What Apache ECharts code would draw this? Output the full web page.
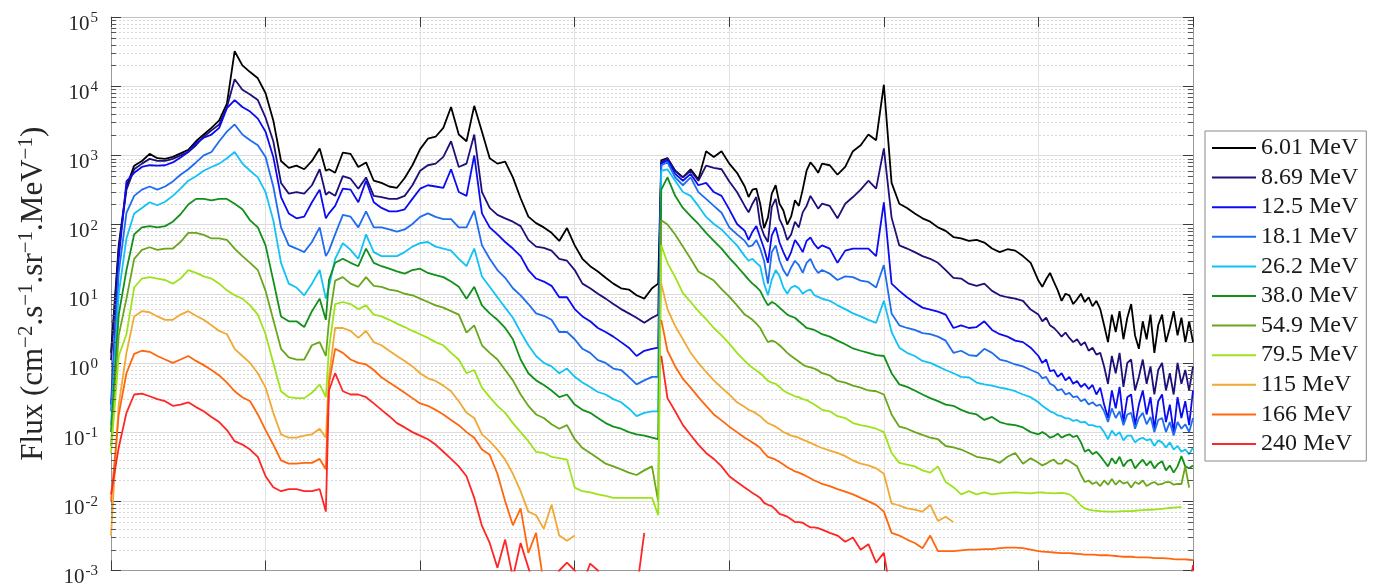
<!DOCTYPE html>
<html>
<head>
<meta charset="utf-8">
<script src="https://cdn.jsdelivr.net/npm/echarts@6.0.0/dist/echarts.min.js"></script>
<style>
  html, body { margin: 0; padding: 0; background: #ffffff; }
  #chart { width: 1383px; height: 588px; }
</style>
</head>
<body>
<div id="chart"></div>
<script>
// Time axis (days) shared by every energy channel; finer sampling over the noisy stretches
const days = [
  0, 0.05, 0.1, 0.15, 0.2, 0.25, 0.3, 0.35, 0.4, 0.45,
  0.5, 0.55, 0.6, 0.65, 0.7, 0.75, 0.8, 0.85, 0.9, 0.95,
  1.0, 1.05, 1.1, 1.15, 1.2, 1.25, 1.3, 1.35, 1.39, 1.41,
  1.45, 1.5, 1.55, 1.6, 1.65, 1.7, 1.75, 1.8, 1.85, 1.9,
  1.95, 2.0, 2.05, 2.1, 2.15, 2.2, 2.25, 2.3, 2.35, 2.4,
  2.45, 2.5, 2.55, 2.6, 2.65, 2.7, 2.75, 2.8, 2.85, 2.9,
  2.95, 3.0, 3.05, 3.1, 3.15, 3.2, 3.25, 3.3, 3.35, 3.4,
  3.45, 3.5, 3.54, 3.56, 3.6, 3.65, 3.7, 3.75, 3.8, 3.85,
  3.9, 3.95, 4.0, 4.05, 4.1, 4.125, 4.15, 4.175, 4.2, 4.225,
  4.25, 4.275, 4.3, 4.325, 4.35, 4.375, 4.4, 4.425, 4.45, 4.475,
  4.5, 4.525, 4.55, 4.575, 4.6, 4.65, 4.7, 4.75, 4.8, 4.85,
  4.9, 4.95, 5.0, 5.05, 5.1, 5.15, 5.2, 5.25, 5.3, 5.35,
  5.4, 5.45, 5.5, 5.55, 5.6, 5.65, 5.7, 5.75, 5.8, 5.85,
  5.9, 5.95,
  6.0, 6.025, 6.05, 6.075, 6.1, 6.125, 6.15, 6.175, 6.2, 6.225,
  6.25, 6.275, 6.3, 6.325, 6.35, 6.375, 6.4, 6.425, 6.45, 6.475,
  6.5, 6.525, 6.55, 6.575, 6.6, 6.625, 6.65, 6.675, 6.7, 6.725,
  6.75, 6.775, 6.8, 6.825, 6.85, 6.875, 6.9, 6.925, 6.95, 6.975,
  7.0
];

const energies = ['6.01 MeV', '8.69 MeV', '12.5 MeV', '18.1 MeV', '26.2 MeV', '38.0 MeV',
                  '54.9 MeV', '79.5 MeV', '115 MeV', '166 MeV', '240 MeV'];

const lineColors = ['#000000', '#1d1079', '#0b0bf2', '#1f6cf0', '#12c2f5', '#11901a',
                    '#69a61b', '#9de31c', '#f0a935', '#ff660d', '#ff2626'];

// Proton flux, cm^-2 s^-1 sr^-1 MeV^-1 ('-' = no measurement)
const flux601 = [
  1.4, 50, 350, 710, 830, 1.05e3, 910, 890, 950, 1.07e3,
  1.2e3, 1.6e3, 2.0e3, 2.5e3, 3.2e3, 5.6e3, 3.2e4, 2.0e4, 1.6e4, 1.3e4,
  7.9e3, 3.2e3, 830, 660, 710, 630, 830, 1.26e3, 600, 630,
  560, 1.1e3, 1.05e3, 680, 790, 430, 400, 355, 340, 470,
  720, 1.23e3, 1.74e3, 1.86e3, 2.5e3, 5.0e3, 2.0e3, 1.6e3, 5.2e3, 2.2e3,
  910, 760, 810, 480, 240, 130, 105, 91, 76, 58,
  89, 50, 32, 25, 21, 17, 14, 12, 11.5, 9.5,
  8.5, 12, 14, 850, 910, 600, 480, 630, 450, 1.15e3,
  950, 1.15e3, 760, 560, 355, 250, 320, 330, 200, 89,
  126, 280, 370, 200, 160, 100, 130, 224, 186, 320,
  600, 790, 680, 560, 760, 720, 525, 680, 1.15e3, 1.4e3,
  2.0e3, 1.66e3, 1.05e4, 400, 200, 174, 145, 123, 110, 91,
  81, 66, 63, 58, 60, 55, 45, 40, 44, 42,
  35, 28,
  15.5, 12.6, 16.2, 20, 14.8, 11.2, 7.9, 10, 9.5, 7.1,
  8.3, 10, 7.6, 8.9, 6.6, 7.9, 6.0, 3.5, 2.0, 5.0,
  2.8, 5.6, 2.2, 4.5, 7.1, 2.5, 1.6, 4.0, 2.2, 5.0,
  1.4, 3.5, 5.0, 2.0, 3.2, 5.6, 2.5, 4.5, 2.0, 4.0,
  2.0
];
const flux869 = [
  1.1, 45, 320, 630, 760, 890, 830, 830, 890, 1.0e3,
  1.12e3, 1.4e3, 1.86e3, 2.3e3, 2.8e3, 5.0e3, 1.26e4, 8.9e3, 7.6e3, 6.3e3,
  3.5e3, 1.6e3, 400, 280, 295, 280, 370, 630, 270, 295,
  260, 500, 460, 330, 480, 260, 250, 235, 235, 260,
  370, 600, 720, 760, 950, 1.6e3, 680, 760, 2.0e3, 295,
  174, 138, 123, 110, 95, 60, 48, 46, 42, 32,
  30, 22, 14, 12, 10, 8.5, 7.1, 6.0, 5.2, 4.5,
  3.8, 4.5, 5.0, 790, 910, 600, 480, 600, 430, 710,
  660, 630, 420, 295, 186, 150, 200, 250, 100, 70,
  56, 180, 235, 120, 91, 60, 72, 110, 91, 150,
  186, 260, 210, 170, 200, 186, 123, 200, 250, 320,
  430, 330, 1.26e3, 126, 50, 45, 40, 35, 32, 28,
  22, 17, 16.6, 14, 13, 14, 11, 9.5, 8.9, 8.5,
  7.9, 5.9,
  5.0, 4.0, 4.5, 3.5, 3.2, 2.8, 2.4, 2.75, 2.3, 2.0,
  2.2, 1.8, 2.0, 1.5, 1.66, 1.32, 1.4, 0.89, 0.5, 1.26,
  0.71, 1.4, 0.45, 1.0, 1.12, 0.4, 0.63, 1.12, 0.5, 0.89,
  0.35, 0.79, 1.0, 0.4, 0.71, 0.35, 1.0, 0.5, 0.79, 0.4,
  0.89
];
const flux125 = [
  0.25, 32, 420, 560, 680, 720, 710, 720, 790, 930,
  1.12e3, 1.5e3, 1.8e3, 2.0e3, 2.5e3, 4.8e3, 6.3e3, 5.0e3, 4.3e3, 3.4e3,
  2.2e3, 950, 250, 145, 123, 130, 210, 320, 123, 145,
  186, 330, 320, 210, 430, 210, 174, 155, 155, 166,
  235, 330, 370, 355, 340, 630, 295, 260, 1.0e3, 145,
  91, 72, 56, 45, 35, 22, 16.6, 15, 13, 8.9,
  8.9, 6.0, 4.7, 4.0, 3.2, 2.8, 2.4, 2.0, 1.66, 1.26,
  1.5, 1.6, 1.66, 760, 850, 540, 430, 540, 370, 400,
  295, 260, 166, 102, 81, 60, 79, 95, 65, 45,
  28, 70, 91, 55, 40, 30, 40, 60, 50, 40,
  58, 65, 52, 45, 50, 45, 28, 42, 45, 45,
  45, 35, 210, 14, 11, 8.9, 7.4, 6.3, 5.9, 5.5,
  5.0, 3.2, 3.5, 3.2, 3.3, 4.0, 3.0, 2.6, 2.4, 2.1,
  2.0, 1.66,
  1.26, 1.0, 1.12, 0.76, 0.79, 0.63, 0.71, 0.56, 0.63, 0.5,
  0.55, 0.45, 0.5, 0.42, 0.48, 0.35, 0.44, 0.25, 0.16, 0.4,
  0.22, 0.45, 0.14, 0.32, 0.35, 0.126, 0.25, 0.4, 0.18, 0.32,
  0.112, 0.28, 0.35, 0.14, 0.25, 0.1, 0.32, 0.16, 0.28, 0.126,
  0.4
];
const flux181 = [
  0.2, 20, 148, 260, 320, 355, 320, 355, 420, 525,
  630, 790, 1.0e3, 1.12e3, 1.6e3, 2.2e3, 2.8e3, 2.0e3, 1.66e3, 1.4e3,
  950, 355, 91, 50, 45, 40, 56, 91, 35, 42,
  72, 138, 130, 91, 155, 91, 91, 85, 79, 85,
  102, 129, 145, 129, 120, 120, 91, 91, 158, 50,
  32, 22, 17, 12, 9.5, 7.1, 5.2, 4.8, 4.2, 2.8,
  2.8, 2.2, 1.6, 1.4, 1.1, 1.0, 0.83, 0.79, 0.63, 0.49,
  0.56, 0.63, 0.63, 720, 790, 480, 370, 480, 295, 235,
  186, 148, 91, 72, 58, 48, 50, 60, 45, 30,
  14, 40, 50, 30, 22, 18, 24, 30, 26, 20,
  28, 32, 24, 20, 22, 19.5, 15.8, 17.8, 17.4, 15.5,
  14.8, 12.3, 26, 5.2, 3.5, 3.2, 3.0, 2.7, 2.6, 2.4,
  2.1, 1.4, 1.5, 1.3, 1.26, 1.6, 1.4, 1.12, 1.05, 0.95,
  0.89, 0.79,
  0.71, 0.6, 0.63, 0.5, 0.47, 0.4, 0.42, 0.35, 0.37, 0.32,
  0.33, 0.28, 0.3, 0.25, 0.27, 0.24, 0.25, 0.2, 0.14, 0.22,
  0.16, 0.2, 0.126, 0.18, 0.19, 0.112, 0.16, 0.19, 0.13, 0.166,
  0.1, 0.15, 0.16, 0.1, 0.14, 0.089, 0.14, 0.112, 0.13, 0.1,
  0.16
];
const flux262 = [
  0.126, 10, 63, 145, 174, 210, 190, 214, 260, 330,
  430, 500, 600, 680, 760, 910, 1.12e3, 760, 600, 480,
  295, 115, 28, 14, 12.3, 9.5, 14, 22, 8.5, 12.6,
  32, 54, 43, 32, 72, 40, 35, 35, 35, 40,
  48, 54, 56, 48, 45, 42, 32, 25, 45, 17.8,
  12.6, 8.9, 6.3, 4.5, 2.8, 1.8, 1.26, 1.0, 0.89, 0.71,
  0.83, 0.63, 0.52, 0.45, 0.38, 0.35, 0.3, 0.27, 0.22, 0.17,
  0.19, 0.2, 0.2, 600, 630, 430, 295, 260, 186, 129,
  102, 85, 65, 50, 35, 30, 32, 28, 25, 14,
  9.5, 16, 22, 18, 12.3, 10, 12.3, 13, 12, 10,
  11, 11.5, 9.5, 9, 8.5, 7.9, 6.8, 6.0, 5.2, 4.7,
  4.2, 3.8, 7.9, 2.8, 1.66, 1.4, 1.26, 1.07, 1.0, 0.89,
  0.79, 0.71, 0.63, 0.62, 0.52, 0.49, 0.47, 0.44, 0.42, 0.39,
  0.35, 0.32,
  0.27, 0.24, 0.22, 0.2, 0.19, 0.174, 0.17, 0.158, 0.158, 0.145,
  0.15, 0.138, 0.141, 0.126, 0.126, 0.12, 0.12, 0.1, 0.079, 0.105,
  0.089, 0.1, 0.076, 0.089, 0.089, 0.071, 0.079, 0.083, 0.076, 0.079,
  0.063, 0.076, 0.071, 0.06, 0.071, 0.056, 0.063, 0.052, 0.056, 0.048,
  0.06
];
const flux380 = [
  0.1, 5.0, 22, 72, 91, 95, 91, 95, 110, 141,
  195, 235, 235, 224, 235, 235, 200, 166, 115, 91,
  50, 15.5, 4.7, 4.0, 4.0, 3.3, 5.6, 8.5, 4.2, 15.8,
  28, 32, 28, 25, 45, 28, 25, 23, 21, 19.5,
  22, 23, 20, 18.6, 17.4, 15, 12.6, 8.5, 12.6, 6.8,
  5.2, 4.2, 3.2, 2.2, 1.12, 0.71, 0.56, 0.48, 0.4, 0.32,
  0.35, 0.25, 0.21, 0.19, 0.16, 0.135, 0.12, 0.112, 0.1, 0.093,
  0.089, 0.083, 0.079, 320, 480, 260, 174, 132, 102, 76,
  58, 45, 33, 25, 18.6, 16, 14, 12.6, 11, 8.5,
  6.8, 7.6, 7.1, 6.3, 5.6, 5.0, 4.7, 4.5, 4.0, 3.6,
  3.2, 3.1, 3.0, 2.8, 2.6, 2.4, 2.1, 1.86, 1.62, 1.5,
  1.4, 1.3, 1.26, 0.71, 0.49, 0.45, 0.4, 0.35, 0.31, 0.28,
  0.25, 0.24, 0.21, 0.19, 0.18, 0.15, 0.166, 0.14, 0.13, 0.126,
  0.117, 0.1,
  0.093, 0.1, 0.093, 0.083, 0.087, 0.095, 0.083, 0.089, 0.093, 0.085,
  0.089, 0.071, 0.052, 0.056, 0.048, 0.052, 0.045, 0.038, 0.032, 0.042,
  0.035, 0.044, 0.032, 0.038, 0.04, 0.03, 0.035, 0.04, 0.033, 0.038,
  0.03, 0.035, 0.038, 0.028, 0.033, 0.026, 0.032, 0.045, 0.032, 0.03,
  0.033
];
const flux549 = [
  0.063, 2.5, 8.5, 32, 43, 47, 43, 45, 45, 56,
  76, 76, 71, 63, 63, 60, 45, 35, 28, 22,
  11, 4.2, 1.6, 1.2, 1.12, 1.12, 1.8, 2.0, 1.26, 4.0,
  15.5, 17.4, 14, 12.6, 17.4, 13, 12.6, 11.5, 11, 10,
  9.5, 8.5, 7.6, 6.8, 6.3, 5.6, 5.0, 2.75, 3.5, 1.8,
  1.4, 1.12, 0.79, 0.56, 0.35, 0.24, 0.18, 0.16, 0.13, 0.112,
  0.126, 0.079, 0.059, 0.05, 0.042, 0.035, 0.032, 0.029, 0.026, 0.024,
  0.028, 0.032, 0.01, 115, 100, 72, 48, 32, 21, 18,
  15.5, 11.7, 9.1, 6.8, 5.0, 4.6, 4.2, 3.7, 3.2, 2.5,
  2.0, 2.1, 2.0, 1.8, 1.6, 1.4, 1.26, 1.15, 1.05, 0.95,
  0.89, 0.86, 0.83, 0.78, 0.71, 0.66, 0.55, 0.52, 0.47, 0.44,
  0.4, 0.39, 0.35, 0.18, 0.12, 0.112, 0.1, 0.091, 0.083, 0.079,
  0.063, 0.06, 0.056, 0.05, 0.044, 0.042, 0.04, 0.036, 0.044, 0.05,
  0.035, 0.042,
  0.036, 0.033, 0.035, 0.038, 0.04, 0.035, 0.035, 0.04, 0.038, 0.035,
  0.032, 0.024, 0.019, 0.02, 0.0178, 0.019, 0.0166, 0.02, 0.0174, 0.021,
  0.0174, 0.02, 0.018, 0.019, 0.0158, 0.019, 0.0178, 0.02, 0.0166, 0.018,
  0.019, 0.0174, 0.0178, 0.019, 0.019, 0.0174, 0.0178, 0.0178, 0.032, 0.0158,
  '-'
];
const flux795 = [
  0.05, 1.26, 2.6, 12.3, 16.6, 17.4, 16.6, 15.8, 14, 16.6,
  22, 20, 17.8, 16.6, 14, 11.2, 9.5, 8.5, 6.8, 5.0,
  2.6, 1.0, 0.39, 0.32, 0.31, 0.31, 0.37, 0.49, 0.32, 1.6,
  7.1, 7.6, 7.1, 6.0, 6.8, 5.0, 4.7, 4.2, 3.7, 3.3,
  2.9, 2.6, 2.3, 2.0, 1.8, 1.4, 1.12, 0.71, 0.79, 0.44,
  0.32, 0.24, 0.19, 0.135, 0.1, 0.074, 0.052, 0.05, 0.044, 0.042,
  0.04, 0.0158, 0.014, 0.0135, 0.0126, 0.012, 0.0112, 0.0112, 0.0112, 0.0112,
  0.0112, 0.0112, 6.3e-3, 50, 28, 17.4, 10.2, 7.6, 5.6, 4.3,
  3.2, 2.5, 1.9, 1.4, 1.07, 0.95, 0.85, 0.78, 0.71, 0.63,
  0.55, 0.52, 0.5, 0.45, 0.4, 0.37, 0.35, 0.33, 0.32, 0.3,
  0.29, 0.27, 0.25, 0.23, 0.21, 0.2, 0.17, 0.16, 0.135, 0.126,
  0.12, 0.112, 0.1, 0.05, 0.036, 0.034, 0.032, 0.028, 0.026, 0.032,
  0.019, 0.016, 0.0126, 0.014, 0.0126, 0.0135, 0.0126, 0.013, 0.0132, 0.0135,
  0.0132, 0.013,
  0.0135, 0.0134, 0.0132, 0.0131, 0.013, 0.0131, 0.0132, 0.013, 0.0126, 0.0115,
  0.01, 8.7e-3, 7.9e-3, 7.6e-3, 7.4e-3, 7.3e-3, 7.2e-3, 7.15e-3, 7.1e-3, 7.1e-3,
  7.1e-3, 7.15e-3, 7.2e-3, 7.2e-3, 7.2e-3, 7.3e-3, 7.4e-3, 7.45e-3, 7.5e-3, 7.55e-3,
  7.6e-3, 7.7e-3, 7.8e-3, 7.9e-3, 8.0e-3, 8.1e-3, 8.2e-3, 8.3e-3, '-', '-',
  '-'
];
const flux115 = [
  3.2e-3, 0.25, 1.4, 4.7, 5.6, 5.4, 4.7, 4.2, 4.2, 5.0,
  5.6, 4.8, 4.2, 3.5, 2.9, 2.6, 1.6, 1.26, 1.0, 0.71,
  0.44, 0.19, 0.093, 0.083, 0.083, 0.089, 0.093, 0.112, 0.083, 0.63,
  3.2, 3.2, 2.9, 2.3, 2.9, 2.0, 1.8, 1.5, 1.26, 1.07,
  0.89, 0.71, 0.6, 0.55, 0.47, 0.39, 0.28, 0.19, 0.16, 0.093,
  0.074, 0.056, 0.04, 0.025, 0.014, 7.1e-3, 6.3e-3, 4.0e-3, 8.9e-3, 3.2e-3,
  2.7e-3, 3.2e-3, '-', '-', '-', '-', '-', '-', '-', '-',
  '-', '-', '-', 14, 6.0, 3.4, 2.2, 1.4, 1.0, 0.74,
  0.56, 0.44, 0.35, 0.27, 0.23, 0.21, 0.2, 0.185, 0.17, 0.15,
  0.135, 0.128, 0.12, 0.11, 0.1, 0.095, 0.089, 0.086, 0.083, 0.078,
  0.074, 0.07, 0.066, 0.062, 0.059, 0.054, 0.05, 0.045, 0.039, 0.035,
  0.033, 0.03, 0.025, 9.3e-3, 8.7e-3, 7.9e-3, 7.6e-3, 7.1e-3, 8.9e-3, 5.2e-3,
  6.0e-3, 5.0e-3, '-', '-', '-', '-', '-', '-', '-', '-',
  '-', '-',
  '-', '-', '-', '-', '-', '-', '-', '-', '-', '-',
  '-', '-', '-', '-', '-', '-', '-', '-', '-', '-',
  '-', '-', '-', '-', '-', '-', '-', '-', '-', '-',
  '-', '-', '-', '-', '-', '-', '-', '-', '-', '-',
  '-'
];
const flux166 = [
  0.01, 0.18, 0.71, 1.35, 1.5, 1.45, 1.26, 1.12, 1.0, 1.12,
  1.26, 1.07, 0.93, 0.79, 0.66, 0.52, 0.39, 0.32, 0.28, 0.18,
  0.107, 0.066, 0.039, 0.035, 0.035, 0.036, 0.036, 0.041, 0.029, 0.5,
  1.6, 1.4, 1.12, 1.0, 0.95, 0.79, 0.62, 0.52, 0.44, 0.37,
  0.31, 0.26, 0.24, 0.21, 0.18, 0.15, 0.126, 0.1, 0.083, 0.056,
  0.047, 0.025, 0.01, 4.5e-3, 7.9e-3, 1.8e-3, 3.5e-3, 6.3e-4, '-', '-',
  '-', '-', '-', '-', '-', '-', '-', '-', '-', '-',
  '-', '-', '-', 4.2, 1.5, 0.89, 0.59, 0.44, 0.32, 0.24,
  0.18, 0.148, 0.12, 0.1, 0.083, 0.077, 0.071, 0.065, 0.059, 0.05,
  0.044, 0.042, 0.04, 0.037, 0.034, 0.031, 0.029, 0.027, 0.026, 0.0245,
  0.023, 0.0215, 0.02, 0.019, 0.0178, 0.0166, 0.015, 0.0138, 0.0126, 0.0112,
  0.01, 8.9e-3, 7.1e-3, 3.5e-3, 3.2e-3, 2.8e-3, 2.5e-3, 2.1e-3, 3.2e-3, 1.9e-3,
  1.9e-3, 1.9e-3, 1.95e-3, 2.0e-3, 2.0e-3, 2.04e-3, 2.04e-3, 2.1e-3, 2.14e-3, 2.14e-3,
  2.1e-3, 2.0e-3,
  1.9e-3, 1.88e-3, 1.86e-3, 1.84e-3, 1.82e-3, 1.8e-3, 1.78e-3, 1.78e-3, 1.78e-3, 1.76e-3,
  1.74e-3, 1.72e-3, 1.7e-3, 1.7e-3, 1.7e-3, 1.68e-3, 1.66e-3, 1.66e-3, 1.66e-3, 1.64e-3,
  1.62e-3, 1.6e-3, 1.58e-3, 1.58e-3, 1.58e-3, 1.56e-3, 1.55e-3, 1.55e-3, 1.55e-3, 1.53e-3,
  1.51e-3, 1.51e-3, 1.51e-3, 1.5e-3, 1.48e-3, 1.46e-3, 1.45e-3, 1.45e-3, 1.45e-3, 1.43e-3,
  1.41e-3
];
const flux240 = [
  0.0126, 0.06, 0.19, 0.35, 0.36, 0.33, 0.3, 0.28, 0.24, 0.25,
  0.27, 0.23, 0.2, 0.166, 0.14, 0.107, 0.074, 0.066, 0.056, 0.044,
  0.023, 0.016, 0.014, 0.015, 0.015, 0.014, 0.014, 0.015, 7.1e-3, 0.4,
  0.71, 0.39, 0.35, 0.35, 0.32, 0.26, 0.21, 0.17, 0.135, 0.117,
  0.1, 0.089, 0.079, 0.066, 0.052, 0.041, 0.032, 0.023, 0.0112, 4.4e-3,
  2.5e-3, 1.1e-3, 2.8e-3, 7.9e-4, 2.5e-3, 1.1e-3, 5e-4, 3.2e-4, 5e-4, 1.0e-3,
  1.3e-3, 1.0e-3, 6.3e-4, 1.26e-3, 1.0e-3, 4e-4, 2.5e-4, 2.5e-4, 3.2e-4, 5e-4,
  3.5e-3, '-', '-', 1.26, 0.31, 0.2, 0.126, 0.091, 0.066, 0.05,
  0.041, 0.032, 0.023, 0.019, 0.0158, 0.0145, 0.0132, 0.0122, 0.0112, 9.5e-3,
  8.9e-3, 8.5e-3, 7.6e-3, 6.6e-3, 6.3e-3, 6.0e-3, 5.5e-3, 5.0e-3, 5.0e-3, 4.9e-3,
  4.5e-3, 4.2e-3, 4.2e-3, 4.1e-3, 3.9e-3, 3.5e-3, 3.2e-3, 2.6e-3, 3.0e-3, 2.0e-3,
  2.4e-3, 1.3e-3, 1.8e-3, 4e-4, '-', '-', '-', '-', '-', '-',
  '-', '-', '-', '-', '-', '-', '-', '-', '-', '-',
  '-', '-',
  '-', '-', '-', '-', '-', '-', '-', '-', '-', '-',
  '-', '-', '-', '-', '-', '-', '-', '-', '-', '-',
  '-', '-', '-', '-', '-', '-', '-', '-', '-', '-',
  '-', '-', '-', '-', '-', '-', '-', '-', '-', 5e-4,
  1.2e-3
];

const channels = [flux601, flux869, flux125, flux181, flux262, flux380,
                  flux549, flux795, flux115, flux166, flux240];

const serif = '"Liberation Serif", "Times New Roman", serif';
const textColor = '#262626';
const plot = { left: 111, top: 17, width: 1082, height: 557 };

const chart = echarts.init(document.getElementById('chart'), null, { renderer: 'canvas' });

const series = energies.map((name, k) => ({
  name: name,
  type: 'line',
  xAxisIndex: 0,
  yAxisIndex: 0,
  showSymbol: false,
  symbol: 'none',
  clip: true,
  connectNulls: false,
  lineStyle: { width: 1.8, color: lineColors[k] },
  itemStyle: { color: lineColors[k] },
  emphasis: { disabled: true },
  data: days.map((d, i) => [d, channels[k][i]])
}));

function expLabel(v) {
  const e = Math.round(Math.log10(v));
  return '{b|10}{e|' + (e < 0 ? '-' + (-e) : String(e)) + '}';
}

const option = {
  animation: false,
  backgroundColor: '#ffffff',
  grid: { left: plot.left, top: plot.top, width: plot.width, height: plot.height },
  xAxis: [
    {
      type: 'value', min: 0, max: 7, interval: 1, position: 'bottom',
      axisLine: { show: true, onZero: false, lineStyle: { color: '#9a9a9a', width: 1 } },
      axisTick: { show: true, inside: true, length: 10, lineStyle: { color: '#3a3a3a' } },
      axisLabel: { show: false },
      splitLine: { show: true, lineStyle: { color: '#e2e2e2', width: 1 } }
    },
    {
      type: 'value', min: 0, max: 7, interval: 1, position: 'top',
      axisLine: { show: true, onZero: false, lineStyle: { color: '#c4c4c4', width: 1 } },
      axisTick: { show: true, inside: true, length: 10, lineStyle: { color: '#3a3a3a' } },
      axisLabel: { show: false },
      splitLine: { show: false }
    }
  ],
  yAxis: [
    {
      type: 'log', logBase: 10, min: 1e-3, max: 1e5, position: 'left',
      axisLine: { show: true, onZero: false, lineStyle: { color: '#9a9a9a', width: 1 } },
      axisTick: { show: true, inside: true, length: 10, lineStyle: { color: '#3a3a3a' } },
      splitLine: { show: true, lineStyle: { color: '#dcdcdc', width: 1 } },
      axisLabel: {
        margin: 13,
        formatter: expLabel,
        rich: {
          b: { fontFamily: serif, fontSize: 21, color: textColor, padding: [14, 0, 0, 0] },
          e: { fontFamily: serif, fontSize: 15, color: textColor, padding: [2, 0, 0, 1] }
        }
      },
      name: 'Flux (cm{s|\u22122}.s{s|\u22121}.sr{s|\u22121}.MeV{s|\u22121})',
      nameLocation: 'middle',
      nameRotate: 90,
      nameGap: 60,
      nameTextStyle: {
        fontFamily: serif, fontSize: 31, color: textColor,
        rich: { s: { fontFamily: serif, fontSize: 21, color: textColor, padding: [0, 0, 14, 0] } }
      }
    },
    {
      type: 'log', logBase: 10, min: 1e-3, max: 1e5, position: 'right',
      axisLine: { show: true, onZero: false, lineStyle: { color: '#9a9a9a', width: 1 } },
      axisTick: { show: true, inside: true, length: 10, lineStyle: { color: '#3a3a3a' } },
      axisLabel: { show: false },
      splitLine: { show: false }
    }
  ],
  legend: {
    show: true,
    orient: 'vertical',
    left: 1205,
    top: 131,
    padding: [5, 8, 5, 7],
    itemWidth: 44,
    itemHeight: 2,
    itemGap: 5.6,
    icon: 'rect',
    borderColor: '#8a8a8a',
    borderWidth: 1,
    borderRadius: 0,
    backgroundColor: '#ffffff',
    selectedMode: false,
    textStyle: { fontFamily: serif, fontSize: 24, color: '#1a1a1a', lineHeight: 23 },
    data: energies
  },
  series: series
};

chart.setOption(option);

// MATLAB-style log decoration: dotted minor grid at 2..9 x 10^n and short minor ticks on both sides
function addMinorDecor() {
  const els = [];
  const xL = plot.left, xR = plot.left + plot.width;
  for (let e = -3; e < 5; e++) {
    for (let m = 2; m <= 9; m++) {
      const v = m * Math.pow(10, e);
      const y = Math.round(chart.convertToPixel({ yAxisIndex: 0 }, v)) + 0.5;
      els.push({ type: 'line', silent: true, z: 0,
        shape: { x1: xL, y1: y, x2: xR, y2: y },
        style: { stroke: '#d8d8d8', lineWidth: 1, lineDash: [2, 2] } });
      els.push({ type: 'line', silent: true, z: 5,
        shape: { x1: xL, y1: y, x2: xL + 5, y2: y },
        style: { stroke: '#555555', lineWidth: 1 } });
      els.push({ type: 'line', silent: true, z: 5,
        shape: { x1: xR - 5, y1: y, x2: xR, y2: y },
        style: { stroke: '#555555', lineWidth: 1 } });
    }
  }
  chart.setOption({ graphic: { elements: els } });
}
addMinorDecor();
</script>
</body>
</html>
